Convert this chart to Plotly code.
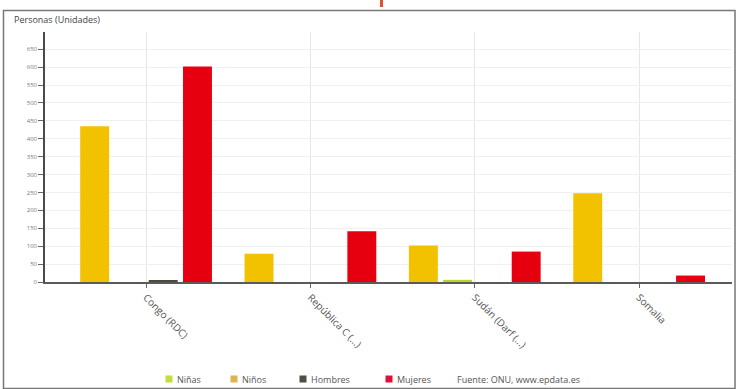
import plotly.graph_objects as go

# Victims by country and group (persons)
categories = ["Congo (RDC)", "República C (...)", "Sudán (Darf (...)", "Somalia"]
ninos = [435, 79, 102, 248]
ninas = [0, 0, 6, 0]
hombres = [3, 0, 0, 0]
mujeres = [602, 142, 85, 18]

series_names = ["Niñas", "Niños", "Hombres", "Mujeres"]
series_colors = {"Niñas": "#b9d42c", "Niños": "#f2c100", "Hombres": "#4b4a3c", "Mujeres": "#e6000f"}
legend_colors = {"Niñas": "#c2de3a", "Niños": "#dcb550", "Hombres": "#4e4e44", "Mujeres": "#e0103a"}

W, H = 738, 389
ML, MR, MT, MB = 45, 6, 32, 107
PW, PH = W - ML - MR, H - MT - MB


def px(x):
    return (x - ML) / PW


def py(y):
    return (H - MB - y) / PH


fig = go.Figure()
# bar order inside each group
for name, vals in [("Niños", ninos), ("Niñas", ninas), ("Hombres", hombres), ("Mujeres", mujeres)]:
    fig.add_trace(go.Bar(
        x=categories, y=vals, name=name,
        marker=dict(color=series_colors[name], line=dict(width=0)),
        showlegend=False,
    ))

font_family = "Open Sans, Liberation Sans, sans-serif"

fig.update_layout(
    width=W, height=H,
    margin=dict(l=ML, r=MR, t=MT, b=MB),
    paper_bgcolor="white", plot_bgcolor="white",
    barmode="group", bargap=0.166, bargroupgap=0.156,
    font=dict(family=font_family, color="#555"),
    xaxis=dict(
        type="category", range=[-0.615, 3.565],
        showline=True, linecolor="#5a5a5a", linewidth=1.5,
        showgrid=True, gridcolor="#e6e6e6", gridwidth=1,
        ticks="outside", ticklen=4, tickcolor="#666",
        tickangle=45, tickfont=dict(size=10, color="#555"),
        zeroline=False,
    ),
    yaxis=dict(
        range=[0, 698], dtick=50, tick0=0,
        showline=True, linecolor="#4a4a4a", linewidth=1.5,
        showgrid=True, gridcolor="#f0f0f0", gridwidth=1,
        ticks="outside", ticklen=5, tickcolor="#666",
        tickfont=dict(size=6, color="#777"),
        zeroline=False,
    ),
)

shapes = []
annotations = []

# outer frame
shapes.append(dict(type="rect", xref="paper", yref="paper",
                   x0=px(3.5), x1=px(735), y0=py(388.5), y1=py(10.5),
                   line=dict(color="#777", width=1.5), fillcolor="rgba(0,0,0,0)", layer="below"))
# clipped title fragment at the top edge
shapes.append(dict(type="rect", xref="paper", yref="paper",
                   x0=px(380), x1=px(383), y0=py(7), y1=py(0),
                   line=dict(width=0), fillcolor="#e4502a"))

# axis title
annotations.append(dict(text="Personas (Unidades)", xref="paper", yref="paper",
                        x=px(12), y=py(20), xanchor="left", yanchor="middle",
                        showarrow=False, font=dict(size=9, color="#444", family=font_family)))

# legend row
legend_y = 379
legend_marker_x = {"Niñas": 169, "Niños": 234, "Hombres": 303, "Mujeres": 389}
for name in series_names:
    cx = legend_marker_x[name]
    shapes.append(dict(type="rect", xref="paper", yref="paper",
                       x0=px(cx - 3.5), x1=px(cx + 3.5), y0=py(legend_y + 3.5), y1=py(legend_y - 3.5),
                       line=dict(width=0), fillcolor=legend_colors[name]))
    annotations.append(dict(text=name, xref="paper", yref="paper",
                            x=px(cx + 6), y=py(legend_y), xanchor="left", yanchor="middle",
                            showarrow=False, font=dict(size=9, color="#555", family=font_family)))
annotations.append(dict(text="Fuente: ONU, www.epdata.es", xref="paper", yref="paper",
                        x=px(455), y=py(legend_y), xanchor="left", yanchor="middle",
                        showarrow=False, font=dict(size=9, color="#555", family=font_family)))

fig.update_layout(shapes=shapes, annotations=annotations)

fig.write_html("out.html")
